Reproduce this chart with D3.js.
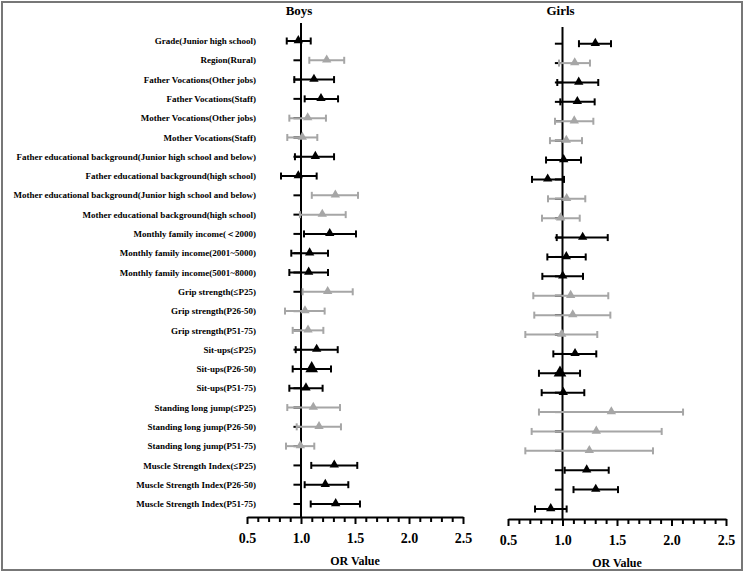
<!DOCTYPE html>
<html>
<head>
<meta charset="utf-8">
<script src="https://cdn.jsdelivr.net/npm/d3@7"></script>
<style>
  html, body { margin: 0; padding: 0; background: #fff; }
  svg { display: block; }
  svg text { font-family: "Liberation Serif", "DejaVu Serif", "Times New Roman", serif; font-weight: bold; fill: #000; }
</style>
</head>
<body>
<svg id="chart" width="745" height="574"></svg>
<script>
const labels = [
  "Grade(Junior high school)",
  "Region(Rural)",
  "Father Vocations(Other jobs)",
  "Father Vocations(Staff)",
  "Mother Vocations(Other jobs)",
  "Mother Vocations(Staff)",
  "Father educational background(Junior high school and below)",
  "Father educational background(high school)",
  "Mother educational background(Junior high school and below)",
  "Mother educational background(high school)",
  "Monthly family income(\uFF1C2000)",
  "Monthly family income(2001~5000)",
  "Monthly family income(5001~8000)",
  "Grip strength(\u2264P25)",
  "Grip strength(P26-50)",
  "Grip strength(P51-75)",
  "Sit-ups(\u2264P25)",
  "Sit-ups(P26-50)",
  "Sit-ups(P51-75)",
  "Standing long jump(\u2264P25)",
  "Standing long jump(P26-50)",
  "Standing long jump(P51-75)",
  "Muscle Strength Index(\u2264P25)",
  "Muscle Strength Index(P26-50)",
  "Muscle Strength Index(P51-75)"
];

// series group: "b" = black markers, "g" = grey markers
const groups = ["b","g","b","b","g","g","b","b","g","g","b","b","b","g","g","g","b","b","b","g","g","g","b","b","b"];

const boysOR = [0.975,1.238,1.12,1.185,1.062,1.012,1.133,0.975,1.318,1.197,1.266,1.08,1.071,1.247,1.037,1.065,1.145,1.099,1.046,1.114,1.167,0.994,1.308,1.225,1.321];
const boysLo = [0.868,1.077,0.938,1.034,0.892,0.873,0.944,0.815,1.10,0.99,1.028,0.91,0.892,1.015,0.852,0.923,0.951,0.923,0.892,0.873,0.96,0.861,1.095,1.034,1.09];
const boysHi = [1.09,1.40,1.306,1.343,1.231,1.151,1.306,1.145,1.528,1.414,1.509,1.25,1.25,1.479,1.219,1.207,1.34,1.278,1.20,1.361,1.37,1.123,1.521,1.438,1.546];

const girlsOR = [1.301,1.112,1.149,1.136,1.108,1.035,1.011,0.864,1.038,0.983,1.185,1.035,1.002,1.075,1.094,0.993,1.115,0.977,1.007,1.448,1.31,1.246,1.222,1.305,0.892];
const girlsLo = [1.151,0.968,0.952,0.98,0.931,0.885,0.849,0.72,0.867,0.812,0.947,0.861,0.815,0.732,0.741,0.659,0.916,0.784,0.809,0.784,0.717,0.659,1.02,1.101,0.748];
const girlsHi = [1.445,1.252,1.328,1.295,1.283,1.179,1.17,1.014,1.209,1.158,1.415,1.213,1.188,1.42,1.439,1.319,1.31,1.161,1.2,2.106,1.91,1.83,1.424,1.509,1.038];

const xTicks = [0.5, 1.0, 1.5, 2.0, 2.5];
const xMinorTicks = [0.6,0.7,0.8,0.9,1.1,1.2,1.3,1.4,1.6,1.7,1.8,1.9,2.1,2.2,2.3,2.4];
const panelTitles = ["Boys", "Girls"];
const axisTitle = "OR Value";

const svg = d3.select("#chart");
const colorOf = g => g === "b" ? "#000000" : "#a6a6a6";
const FONT = '"Liberation Serif", "DejaVu Serif", serif';

svg.append("rect").attr("x", 2).attr("y", 2).attr("width", 740).attr("height", 568)
  .attr("fill", "none").attr("stroke", "#777").attr("stroke-width", 2);

function rowsOf(or, lo, hi) {
  return labels.map((l, i) => ({label: l, or: or[i], lo: lo[i], hi: hi[i], g: groups[i]}));
}

function drawPanel(cfg) {
  const x = d3.scaleLinear().domain([0.5, 2.5]).range(cfg.xRange);
  const y = d3.scalePoint().domain(labels).range(cfg.yRange);
  const gp = svg.append("g");

  gp.append("text").attr("x", x(1) - 2).attr("y", cfg.titleY)
    .attr("text-anchor", "middle").attr("font-size", 13).attr("font-family", FONT)
    .attr("font-weight", "bold").text(cfg.title);

  gp.append("line").attr("x1", x(1)).attr("x2", x(1))
    .attr("y1", cfg.refTop).attr("y2", cfg.axisY)
    .attr("stroke", "#000").attr("stroke-width", 2);

  const rows = gp.selectAll("g.row").data(cfg.data).join("g").attr("class", "row");

  rows.append("line")
    .attr("x1", x(0.93)).attr("x2", x(1))
    .attr("y1", d => y(d.label)).attr("y2", d => y(d.label))
    .attr("stroke", "#000").attr("stroke-width", 2);

  rows.append("line")
    .attr("x1", d => x(d.lo)).attr("x2", d => x(d.hi))
    .attr("y1", d => y(d.label)).attr("y2", d => y(d.label))
    .attr("stroke", d => colorOf(d.g)).attr("stroke-width", 2);
  rows.append("line")
    .attr("x1", d => x(d.lo)).attr("x2", d => x(d.lo))
    .attr("y1", d => y(d.label) - 3.5).attr("y2", d => y(d.label) + 3.5)
    .attr("stroke", d => colorOf(d.g)).attr("stroke-width", 2);
  rows.append("line")
    .attr("x1", d => x(d.hi)).attr("x2", d => x(d.hi))
    .attr("y1", d => y(d.label) - 3.5).attr("y2", d => y(d.label) + 3.5)
    .attr("stroke", d => colorOf(d.g)).attr("stroke-width", 2);
  rows.append("path")
    .attr("d", d => d3.symbol().type(d3.symbolTriangle).size(d.label === "Sit-ups(P26-50)" ? 70 : 38)())
    .attr("transform", d => `translate(${x(d.or)},${y(d.label) - 0.5})`)
    .attr("fill", d => colorOf(d.g));

  if (cfg.showLabels) {
    gp.selectAll("text.lab").data(labels).join("text").attr("class", "lab")
      .attr("x", 256).attr("y", d => y(d)).attr("dy", "0.35em")
      .attr("text-anchor", "end").attr("font-size", 9).attr("font-family", FONT)
      .attr("font-weight", "bold").text(d => d);
  }

  const ax = gp.append("g").attr("transform", `translate(0,${cfg.axisY})`)
    .call(d3.axisBottom(x).tickValues(xTicks).tickSize(7).tickSizeOuter(0).tickPadding(9)
      .tickFormat(d3.format(".1f")));
  ax.select(".domain").attr("stroke", "#000").attr("stroke-width", 2);
  ax.selectAll(".tick line").attr("stroke", "#000").attr("stroke-width", 2);
  ax.selectAll(".tick text").attr("font-size", 14).attr("font-family", FONT).attr("font-weight", "bold");

  const axm = gp.append("g").attr("transform", `translate(0,${cfg.axisY})`)
    .call(d3.axisBottom(x).tickValues(xMinorTicks).tickSize(5).tickSizeOuter(0).tickFormat(""));
  axm.select(".domain").remove();
  axm.selectAll(".tick line").attr("stroke", "#000").attr("stroke-width", 2);

  gp.append("text").attr("x", cfg.axisTitleX).attr("y", cfg.axisTitleY)
    .attr("text-anchor", "middle").attr("font-size", 12).attr("font-family", FONT)
    .attr("font-weight", "bold").text(axisTitle);
}

drawPanel({
  title: panelTitles[0], data: rowsOf(boysOR, boysLo, boysHi),
  xRange: [247, 463], yRange: [41, 504], refTop: 23, axisY: 517,
  titleY: 15, axisTitleX: 355, axisTitleY: 565, showLabels: true
});
drawPanel({
  title: panelTitles[1], data: rowsOf(girlsOR, girlsLo, girlsHi),
  xRange: [508, 726], yRange: [43.7, 509], refTop: 27, axisY: 519,
  titleY: 15, axisTitleX: 617, axisTitleY: 567, showLabels: false
});
</script>
</body>
</html>
